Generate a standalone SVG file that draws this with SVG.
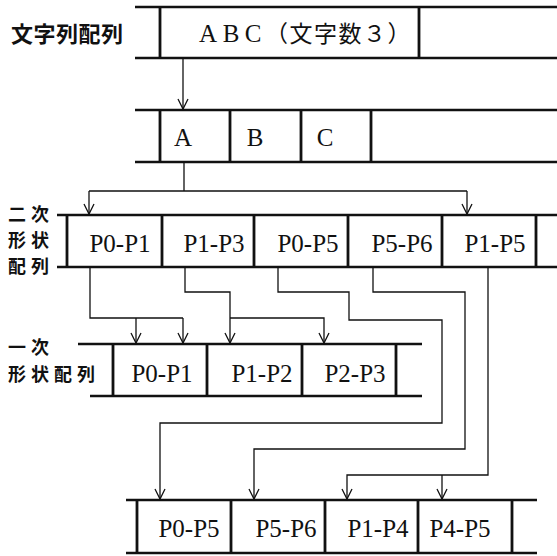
<svg xmlns="http://www.w3.org/2000/svg" width="557" height="556" viewBox="0 0 557 556">
<style>
.bg{fill:#fff}
.h{stroke:#111;stroke-width:2.6;fill:none}
.v{stroke:#111;stroke-width:2.8;fill:none}
.c{stroke:#111;stroke-width:1.3;fill:none}
.lbl{font-family:"Noto Sans CJK JP","Noto Sans CJK SC",sans-serif;font-weight:700;font-size:22px;fill:#111}
.lbs{font-family:"Noto Sans CJK JP","Noto Sans CJK SC",sans-serif;font-weight:700;font-size:18px;fill:#111}
.p{font-family:"Liberation Serif",serif;font-size:25px;fill:#111;text-anchor:middle}
.cjk{font-family:"Noto Sans CJK JP",sans-serif;font-size:23px;fill:#111}
</style>
<defs>
<marker id="ah" viewBox="-12 -7 14 14" refX="0" refY="0" markerWidth="14" markerHeight="14" markerUnits="userSpaceOnUse" orient="auto">
<path d="M-10,-5 L0,0 L-10,5" fill="none" stroke="#111" stroke-width="1.3"/>
</marker>
</defs>
<rect class="bg" x="0" y="0" width="557" height="556"/>

<g id="string-array">
<text class="lbl" x="11" y="42" letter-spacing="0.5">文字列配列</text>
<path class="h" d="M135,7 H557 M135,58 H557"/>
<path class="v" d="M160,7 V58 M419,7 V58"/>
<text class="p" x="208" y="42">A</text>
<text class="p" x="231" y="42">B</text>
<text class="p" x="253" y="42">C</text>
<text class="cjk" x="265" y="42" letter-spacing="1.5">（文字数３）</text>
</g>

<g id="char-array">
<path class="h" d="M135,110 H557 M135,162 H557"/>
<path class="v" d="M160,110 V162 M230,110 V162 M301,110 V162 M371,110 V162"/>
<text class="p" x="183" y="146" font-size="26">A</text>
<text class="p" x="255" y="146" font-size="26">B</text>
<text class="p" x="325" y="146" font-size="26">C</text>
</g>

<g id="secondary-shape-array">
<text class="lbs" letter-spacing="5"><tspan x="8" y="221">二次</tspan><tspan x="8" y="247">形状</tspan><tspan x="8" y="273">配列</tspan></text>
<path class="h" d="M57,215 H557 M57,267 H557"/>
<path class="v" d="M67,215 V267 M162,215 V267 M254,215 V267 M348,215 V267 M442,215 V267 M536,215 V267"/>
<text class="p" x="120" y="252">P0-P1</text>
<text class="p" x="214" y="252">P1-P3</text>
<text class="p" x="308" y="252">P0-P5</text>
<text class="p" x="402" y="252">P5-P6</text>
<text class="p" x="495" y="252">P1-P5</text>
</g>

<g id="primary-shape-array">
<text class="lbs" letter-spacing="5"><tspan x="8" y="354">一次</tspan><tspan x="8" y="381">形状配列</tspan></text>
<path class="h" d="M78,344 H422 M90,396 H422"/>
<path class="v" d="M113,344 V396 M207,344 V396 M302,344 V396 M396,344 V396"/>
<text class="p" x="162" y="382">P0-P1</text>
<text class="p" x="262" y="382">P1-P2</text>
<text class="p" x="355" y="382">P2-P3</text>
</g>

<g id="result-array">
<path class="h" d="M126,500 H537 M126,553 H537"/>
<path class="v" d="M137,500 V553 M231,500 V553 M325,500 V553 M418,500 V553 M512,500 V553"/>
<text class="p" x="189" y="537">P0-P5</text>
<text class="p" x="286" y="537">P5-P6</text>
<text class="p" x="378" y="537">P1-P4</text>
<text class="p" x="460" y="537">P4-P5</text>
</g>

<g id="connectors">
<path class="c" d="M183,58 V109" marker-end="url(#ah)"/>
<path class="c" d="M184,162 V191 M89,191 H467"/>
<path class="c" d="M89,191 V214" marker-end="url(#ah)"/>
<path class="c" d="M467,191 V214" marker-end="url(#ah)"/>
<path class="c" d="M90,267 V318 H183"/>
<path class="c" d="M136,318 V343" marker-end="url(#ah)"/>
<path class="c" d="M183,318 V343" marker-end="url(#ah)"/>
<path class="c" d="M185,267 V292 H230 V343" marker-end="url(#ah)"/>
<path class="c" d="M230,318 H324 V343" marker-end="url(#ah)"/>
<path class="c" d="M278,267 V292 H349 V320 H442 V423 H160 V499" marker-end="url(#ah)"/>
<path class="c" d="M373,267 V292 H465 V449 H254 V499" marker-end="url(#ah)"/>
<path class="c" d="M488,267 V475 H347 V499" marker-end="url(#ah)"/>
<path class="c" d="M442,475 V499" marker-end="url(#ah)"/>
</g>
</svg>
